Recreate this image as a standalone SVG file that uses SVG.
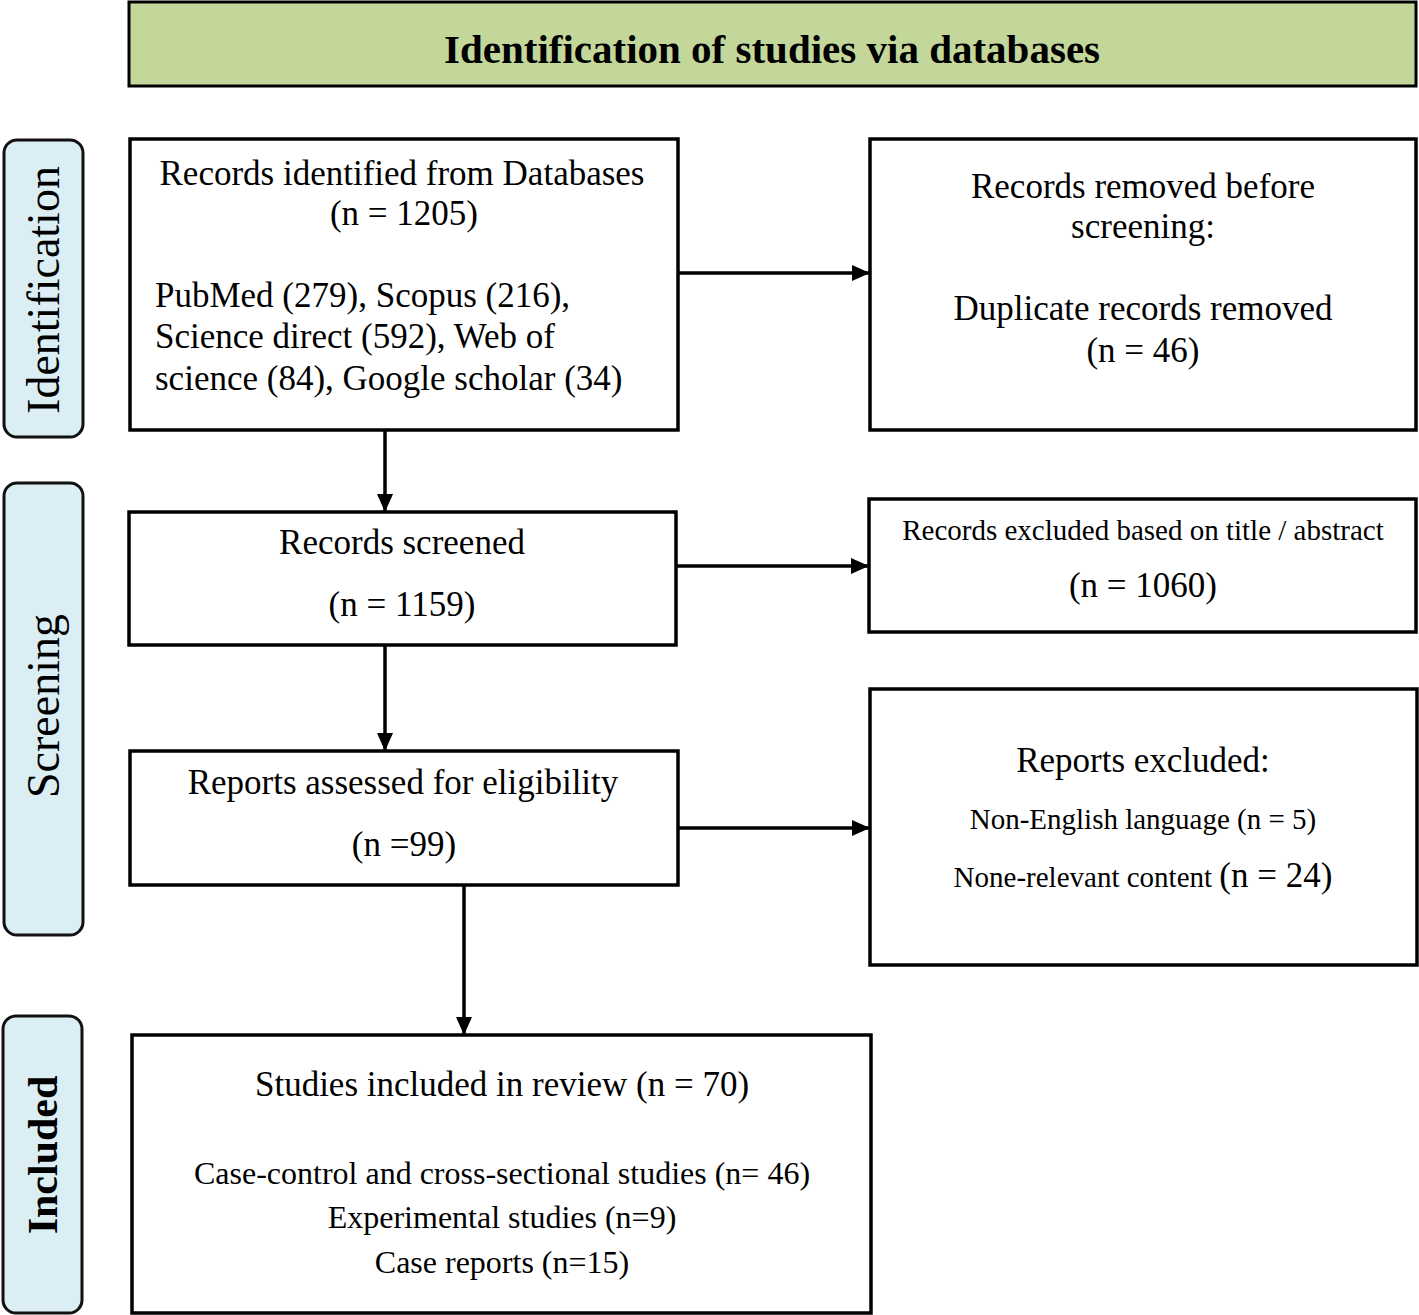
<svg xmlns="http://www.w3.org/2000/svg" width="1419" height="1315" viewBox="0 0 1419 1315">
<style>
.box{fill:#ffffff;stroke:#000;stroke-width:3.5}
.hdr{fill:#c4d79b;stroke:#000;stroke-width:3}
.tab{fill:#dbeef4;stroke:#111;stroke-width:3}
.t{font-family:"Liberation Serif","Times New Roman",serif;font-size:35px;fill:#000}
.s{font-size:29px}
.m{font-size:32px}
.c{text-anchor:middle}
.h{font-weight:bold;font-size:41px}
.side{font-family:"Liberation Serif","Times New Roman",serif;font-size:46px;fill:#000;text-anchor:middle}
.conn{stroke:#000;stroke-width:3.5;fill:none}
</style>
<defs>
<marker id="ah" markerWidth="8" markerHeight="8" refX="7" refY="4" orient="auto" markerUnits="userSpaceOnUse" viewBox="0 0 8 8">
<path d="M0,0 L8,4 L0,8 Z" fill="#000"/>
</marker>
<marker id="arr" viewBox="0 0 18 16" refX="18" refY="8" markerWidth="18" markerHeight="16" orient="auto" markerUnits="userSpaceOnUse">
<path d="M0,0 L18,8 L0,16 Z" fill="#000"/>
</marker>
</defs>

<g id="header">
<rect class="hdr" x="129" y="2" width="1287" height="84"/>
<text class="t h c" x="772" y="63">Identification of studies via databases</text>
</g>

<g id="tab-identification">
<rect class="tab" x="4" y="140" width="79" height="297" rx="13"/>
<text class="side" transform="translate(59,290) rotate(-90)">Identification</text>
</g>
<g id="tab-screening">
<rect class="tab" x="4" y="483" width="79" height="452" rx="13"/>
<text class="side" transform="translate(59,706) rotate(-90)">Screening</text>
</g>
<g id="tab-included">
<rect class="tab" x="3" y="1016" width="79" height="297" rx="13"/>
<text class="side" style="font-weight:bold;font-size:42px" transform="translate(57,1155) rotate(-90)">Included</text>
</g>

<g id="connectors">
<line class="conn" x1="678" y1="273" x2="870" y2="273" marker-end="url(#arr)"/>
<line class="conn" x1="385" y1="430" x2="385" y2="512" marker-end="url(#arr)"/>
<line class="conn" x1="676" y1="566" x2="869" y2="566" marker-end="url(#arr)"/>
<line class="conn" x1="385" y1="645" x2="385" y2="751" marker-end="url(#arr)"/>
<line class="conn" x1="678" y1="828" x2="870" y2="828" marker-end="url(#arr)"/>
<line class="conn" x1="464" y1="885" x2="464" y2="1035" marker-end="url(#arr)"/>
</g>

<g id="records-identified">
<rect class="box" x="130" y="139" width="548" height="291"/>
<text class="t c" x="402" y="185">Records identified from Databases</text>
<text class="t c" x="404" y="225">(n = 1205)</text>
<text class="t" x="155" y="307">PubMed (279), Scopus (216),</text>
<text class="t" x="155" y="348">Science direct (592), Web of</text>
<text class="t" x="155" y="390">science (84), Google scholar (34)</text>
</g>

<g id="records-removed">
<rect class="box" x="870" y="139" width="546" height="291"/>
<text class="t c" x="1143" y="198">Records removed before</text>
<text class="t c" x="1143" y="238">screening:</text>
<text class="t c" x="1143" y="320">Duplicate records removed</text>
<text class="t c" x="1143" y="362">(n = 46)</text>
</g>

<g id="records-screened">
<rect class="box" x="129" y="512" width="547" height="133"/>
<text class="t c" x="402" y="554">Records screened</text>
<text class="t c" x="402" y="616">(n = 1159)</text>
</g>

<g id="records-excluded">
<rect class="box" x="869" y="499" width="547" height="133"/>
<text class="t s c" x="1143" y="540">Records excluded based on title / abstract</text>
<text class="t c" x="1143" y="597">(n = 1060)</text>
</g>

<g id="reports-assessed">
<rect class="box" x="130" y="751" width="548" height="134"/>
<text class="t c" x="403" y="794">Reports assessed for eligibility</text>
<text class="t c" x="404" y="856">(n =99)</text>
</g>

<g id="reports-excluded">
<rect class="box" x="870" y="689" width="547" height="276"/>
<text class="t c" x="1143" y="772">Reports excluded:</text>
<text class="t s c" x="1143" y="829">Non-English language (n = 5)</text>
<text class="t s c" x="1143" y="887">None-relevant content <tspan style="font-size:35px">(n = 24)</tspan></text>
</g>

<g id="studies-included">
<rect class="box" x="132" y="1035" width="739" height="278"/>
<text class="t c" x="502" y="1096">Studies included in review (n = 70)</text>
<text class="t m c" x="502" y="1184">Case-control and cross-sectional studies (n= 46)</text>
<text class="t m c" x="502" y="1228">Experimental studies (n=9)</text>
<text class="t m c" x="502" y="1273">Case reports (n=15)</text>
</g>
</svg>
